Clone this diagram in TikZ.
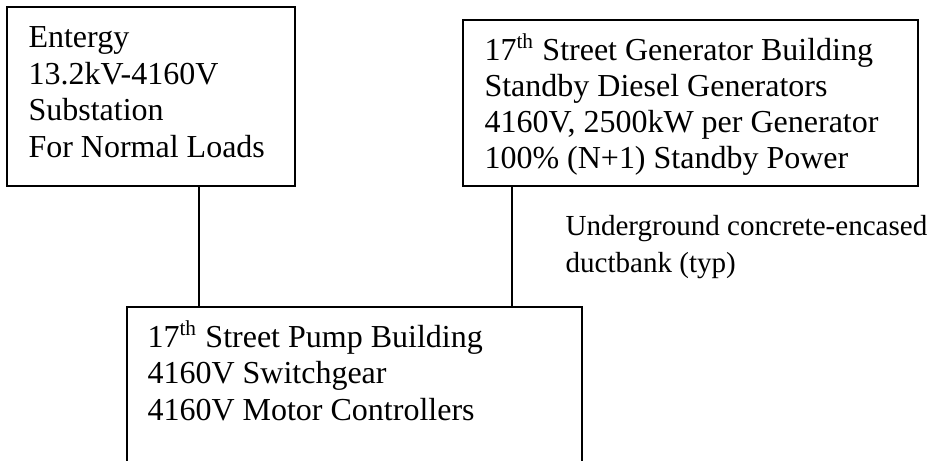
\documentclass[tikz,border=0pt]{standalone}
\usepackage{fontspec}
\setmainfont{Liberation Serif}
\usetikzlibrary{fit}
\begin{document}
\begin{tikzpicture}[x=0.375pt,y=-0.375pt,
  box/.style={draw=black,line width=0.75pt,inner sep=0pt},
  txt/.style={anchor=base west,inner sep=0pt,font=\fontsize{12}{13.75}\selectfont},
  lbl/.style={anchor=base west,inner sep=0pt,font=\fontsize{10.9}{13.75}\selectfont},
  wire/.style={draw=black,line width=0.75pt}]
\clip (0,0) rectangle (930,460);
\fill[white] (0,0) rectangle (930,460);
% boxes
\node[box,fit={(7,7) (295,186)}] (b1) {};
\node[box,fit={(463,20) (918,186)}] (b2) {};
\node[box,fit={(127,307) (582,490)}] (b3) {};
% box 1 text
\node[txt] (t11) at (28,47) {Entergy};
\node[txt] (t12) at (28,84) {13.2kV-4160V};
\node[txt] (t13) at (28,120) {Substation};
\node[txt] (t14) at (28,157) {For Normal Loads};
% box 2 text
\node[txt] (t21) at (484,60) {17\textsuperscript{th} Street Generator Building};
\node[txt] (t22) at (484,96) {Standby Diesel Generators};
\node[txt] (t23) at (484,132) {4160V, 2500kW per Generator};
\node[txt] (t24) at (484,168) {100\% (N+1) Standby Power};
% box 3 text
\node[txt] (t31) at (147,347) {17\textsuperscript{th} Street Pump Building};
\node[txt] (t32) at (147,383) {4160V Switchgear};
\node[txt] (t33) at (147,420) {4160V Motor Controllers};
% label
\node[lbl] (l1) at (565,235) {Underground concrete-encased};
\node[lbl] (l2) at (565,272) {ductbank (typ)};
% connectors
\coordinate (c1) at (199,0);
\coordinate (c2) at (512,0);
\draw[wire] (b1.south -| c1) -- (b3.north -| c1);
\draw[wire] (b2.south -| c2) -- (b3.north -| c2);
\end{tikzpicture}
\end{document}
